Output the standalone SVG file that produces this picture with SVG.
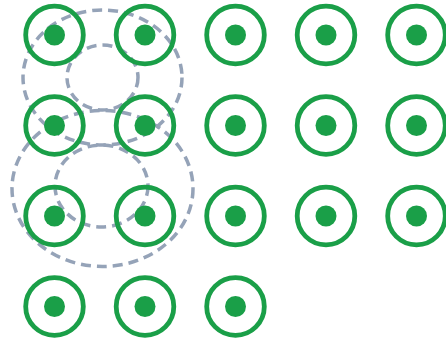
<svg xmlns="http://www.w3.org/2000/svg" width="446" height="341" viewBox="0 0 446 341">
<style>
.ring{fill:none;stroke:#1a9f48;stroke-width:4.8}
.dot{fill:#1a9f48}
.dash{fill:none;stroke:#95a3b8;stroke-width:3.5;stroke-dasharray:10 6}
</style>
<defs>
<g id="node"><circle class="ring" r="28.8"/><circle class="dot" r="10.5"/></g>
</defs>
<rect width="446" height="341" fill="#ffffff"/>
<g id="connectors">
<ellipse class="dash" cx="102.5" cy="77.5" rx="79.5" ry="67.5"/>
<ellipse class="dash" cx="102.5" cy="77.5" rx="35.5" ry="32.5"/>
<ellipse class="dash" cx="102.5" cy="188.5" rx="90.5" ry="78"/>
<ellipse class="dash" cx="101.5" cy="186" rx="46.5" ry="41"/>
</g>
<g id="n11"><use href="#node" x="54.5" y="35"/></g>
<g id="n12"><use href="#node" x="145" y="35"/></g>
<g id="n13"><use href="#node" x="235.5" y="35"/></g>
<g id="n14"><use href="#node" x="326" y="35"/></g>
<g id="n15"><use href="#node" x="416.5" y="35"/></g>
<g id="n21"><use href="#node" x="54.5" y="125.5"/></g>
<g id="n22"><use href="#node" x="145" y="125.5"/></g>
<g id="n23"><use href="#node" x="235.5" y="125.5"/></g>
<g id="n24"><use href="#node" x="326" y="125.5"/></g>
<g id="n25"><use href="#node" x="416.5" y="125.5"/></g>
<g id="n31"><use href="#node" x="54.5" y="216"/></g>
<g id="n32"><use href="#node" x="145" y="216"/></g>
<g id="n33"><use href="#node" x="235.5" y="216"/></g>
<g id="n34"><use href="#node" x="326" y="216"/></g>
<g id="n35"><use href="#node" x="416.5" y="216"/></g>
<g id="n41"><use href="#node" x="54.5" y="306.5"/></g>
<g id="n42"><use href="#node" x="145" y="306.5"/></g>
<g id="n43"><use href="#node" x="235.5" y="306.5"/></g>
</svg>
